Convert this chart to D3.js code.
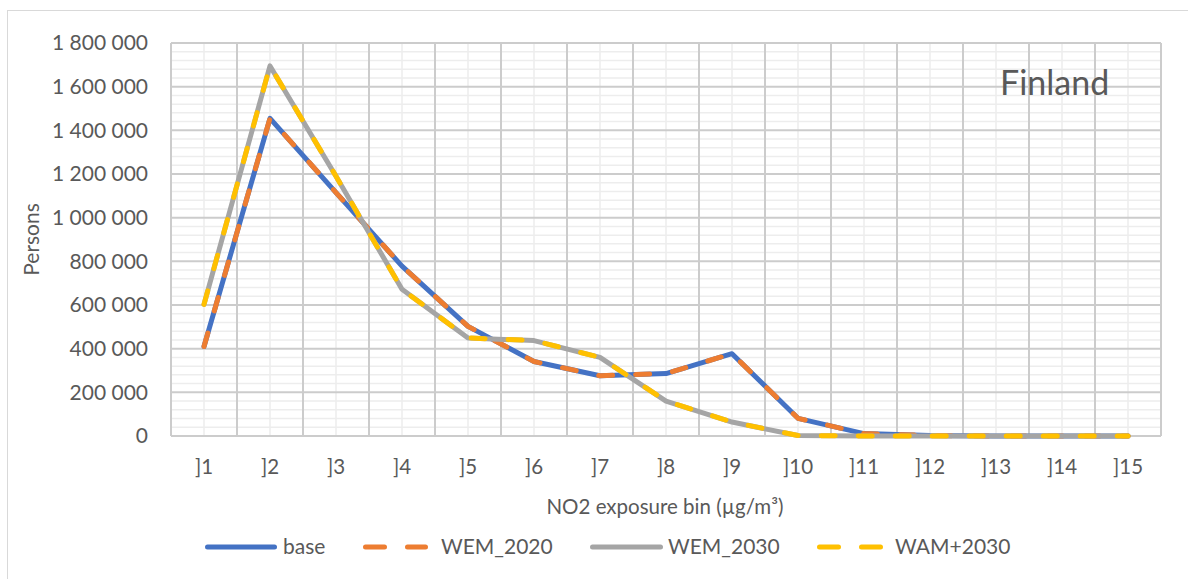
<!DOCTYPE html>
<html lang="en">
<head>
<meta charset="UTF-8">
<title>Finland NO2 exposure</title>
<script src="https://cdnjs.cloudflare.com/ajax/libs/d3/7.8.5/d3.min.js"></script>
<style>
    body { margin: 0; background: #fff; }
    text { font-family: Lato, "Open Sans", sans-serif; fill: #595959; }
</style>
</head>
<body>
<svg id="chart" width="1188" height="579"></svg>
<script>
// bins on the x axis
var bins = ["]1", "]2", "]3", "]4", "]5", "]6", "]7", "]8", "]9", "]10", "]11", "]12", "]13", "]14", "]15"];

// persons per bin
var base     = [410000, 1455000, 1115000, 778000, 502000, 341000, 276000, 286000, 377000, 81000, 11000, 2000, 0, 0, 0];
var wem2020  = [410000, 1455000, 1115000, 778000, 502000, 341000, 276000, 286000, 377000, 81000, 11000, 2000, 0, 0, 0];
var wem2030  = [603000, 1695000, 1190000, 672000, 449000, 437000, 360000, 160000, 64000, 2000, 0, 0, 0, 0, 0];
var wam2030  = [603000, 1695000, 1190000, 672000, 449000, 437000, 360000, 160000, 64000, 2000, 0, 0, 0, 0, 0];

var yTicks = [0, 200000, 400000, 600000, 800000, 1000000, 1200000, 1400000, 1600000, 1800000];

var seriesNames = ["base", "WEM_2020", "WEM_2030", "WAM+2030"];
var seriesValues = [base, wem2020, wem2030, wam2030];
var colors = ["#4472C4", "#ED7D31", "#A5A5A5", "#FFC000"];
var dashed = [false, true, false, true];

var svg = d3.select("#chart");
var plotLeft = 171, plotRight = 1161, plotTop = 43, plotBottom = 436;

// chart frame
svg.append("rect")
    .attr("x", 7.5).attr("y", 10.5)
    .attr("width", 1200).attr("height", 600)
    .attr("fill", "none").attr("stroke", "#d9d9d9");

var x = d3.scaleBand().domain(bins).range([plotLeft, plotRight]);
var y = d3.scaleLinear().domain([0, 1800000]).range([plotBottom, plotTop]);

var fmt = d3.formatLocale({decimal: ",", thousands: " ", grouping: [3], currency: ["", ""]}).format(",");

// minor grid
var minor = d3.range(0, 1800001, 40000).filter(function (d) { return d % 200000 !== 0; });
svg.append("g").selectAll("line").data(minor).enter().append("line")
    .attr("x1", plotLeft).attr("x2", plotRight)
    .attr("y1", function (d) { return y(d); })
    .attr("y2", function (d) { return y(d); })
    .attr("stroke", "#ededed").attr("stroke-width", 1.5);
svg.append("g").selectAll("line").data(bins).enter().append("line")
    .attr("x1", function (d) { return x(d) + x.bandwidth() / 2; })
    .attr("x2", function (d) { return x(d) + x.bandwidth() / 2; })
    .attr("y1", plotTop).attr("y2", plotBottom)
    .attr("stroke", "#ededed").attr("stroke-width", 1.5);

// major grid
svg.append("g").selectAll("line").data(yTicks).enter().append("line")
    .attr("x1", plotLeft).attr("x2", plotRight)
    .attr("y1", function (d) { return y(d); })
    .attr("y2", function (d) { return y(d); })
    .attr("stroke", "#cccccc").attr("stroke-width", 2);
svg.append("g").selectAll("line").data(d3.range(bins.length + 1)).enter().append("line")
    .attr("x1", function (i) { return plotLeft + i * x.step(); })
    .attr("x2", function (i) { return plotLeft + i * x.step(); })
    .attr("y1", plotTop).attr("y2", plotBottom)
    .attr("stroke", "#cccccc").attr("stroke-width", 2);

// y tick labels
svg.append("g").selectAll("text").data(yTicks).enter().append("text")
    .attr("x", 148)
    .attr("y", function (d) { return y(d); })
    .attr("dy", "0.35em")
    .attr("text-anchor", "end")
    .attr("font-size", 21)
    .text(function (d) { return fmt(d); });

// x tick labels
svg.append("g").selectAll("text").data(bins).enter().append("text")
    .attr("x", function (d) { return x(d) + x.bandwidth() / 2; })
    .attr("y", 467)
    .attr("dy", "0.35em")
    .attr("text-anchor", "middle")
    .attr("font-size", 20.5)
    .text(function (d) { return d; });

// axis titles
svg.append("text")
    .attr("transform", "translate(32," + ((plotTop + plotBottom) / 2) + ") rotate(-90)")
    .attr("dy", "0.35em")
    .attr("text-anchor", "middle")
    .attr("font-size", 21)
    .text("Persons");
svg.append("text")
    .attr("x", 665).attr("y", 507)
    .attr("dy", "0.35em")
    .attr("text-anchor", "middle")
    .attr("font-size", 20.5)
    .text("NO2 exposure bin (µg/m³)");

svg.append("text")
    .attr("x", 1000).attr("y", 83)
    .attr("dy", "0.35em")
    .attr("font-size", 34)
    .text("Finland");

// series lines
var line = d3.line()
    .x(function (d, i) { return x(bins[i]) + x.bandwidth() / 2; })
    .y(function (d) { return y(d); });

seriesValues.forEach(function (vals, k) {
    svg.append("path")
        .datum(vals)
        .attr("d", line)
        .attr("fill", "none")
        .attr("stroke", colors[k])
        .attr("stroke-width", 5)
        .attr("stroke-linejoin", "round")
        .attr("stroke-linecap", "round")
        .attr("stroke-dasharray", dashed[k] ? "14,23" : null);
});

// legend
var legendX1 = [207.5, 365.5, 592.5, 819.5];
var legendX2 = [274.5, 425.5, 660.5, 880.5];
var legendTextX = [283, 441, 668, 895];
seriesNames.forEach(function (name, k) {
    svg.append("line")
        .attr("x1", legendX1[k]).attr("x2", legendX2[k])
        .attr("y1", 547).attr("y2", 547)
        .attr("stroke", colors[k])
        .attr("stroke-width", 5)
        .attr("stroke-linecap", "round")
        .attr("stroke-dasharray", dashed[k] ? "19,23" : null);
    svg.append("text")
        .attr("x", legendTextX[k]).attr("y", 547)
        .attr("dy", "0.35em")
        .attr("font-size", 21)
        .text(name);
});
</script>
</body>
</html>
